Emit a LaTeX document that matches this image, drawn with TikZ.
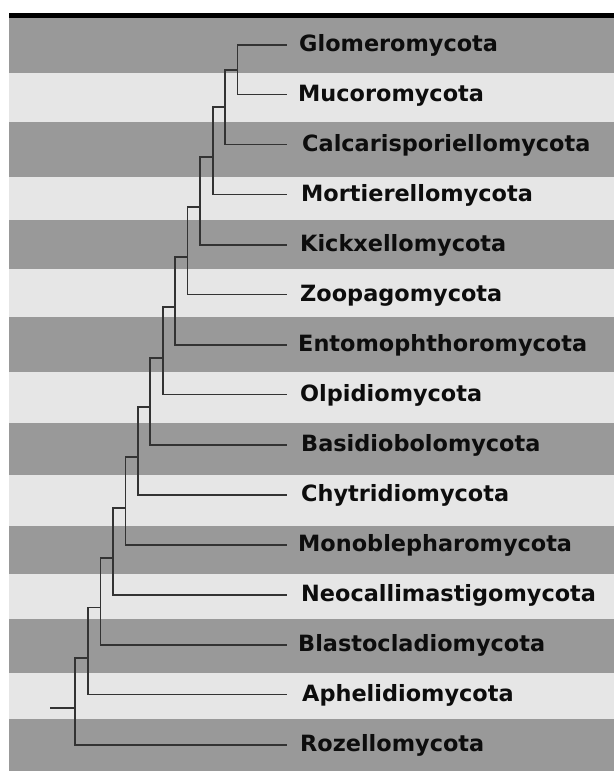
\documentclass[tikz,border=0pt]{standalone}
\usepackage{fontspec}
\newfontfamily\labfont{DejaVu Sans}
\definecolor{banddark}{HTML}{999999}
\definecolor{bandlight}{HTML}{E6E6E6}
\definecolor{branch}{HTML}{333333}
\definecolor{labtext}{HTML}{0D0D0D}
\tikzset{
  branchline/.style={draw=branch, line width=1.6pt},
  taxon/.style={anchor=base west, inner sep=0pt, text=labtext, font=\labfont\bfseries\fontsize{22.4}{26}\selectfont},
}
\begin{document}
\begin{tikzpicture}[x=1pt,y=-1pt]
\useasboundingbox (0,0) rectangle (614,771);
\fill[white] (0,0) rectangle (614,771);
% black top bar
\fill[black] (9,12.7) rectangle (614,18.3);
% bands
\foreach \a/\b/\c in {18.3/73/banddark,73/122/bandlight,122/177/banddark,177/220/bandlight,220/269/banddark,269/317/bandlight,317/372/banddark,372/423/bandlight,423/475/banddark,475/526/bandlight,526/574/banddark,574/619/bandlight,619/673/banddark,673/719/bandlight,719/771/banddark}
  \fill[\c] (9,\a) rectangle (614,\b);
% leaf ends and labels
\foreach \i/\y/\lx/\name in {0/44.7/299/Glomeromycota,1/94.3/298/Mucoromycota,2/144.3/302/Calcarisporiellomycota,3/194.3/301/Mortierellomycota,4/245/300/Kickxellomycota,5/294.3/300/Zoopagomycota,6/344.7/298/Entomophthoromycota,7/394.3/300/Olpidiomycota,8/445/301/Basidiobolomycota,9/495/301/Chytridiomycota,10/545/298/Monoblepharomycota,11/595/301/Neocallimastigomycota,12/645/298/Blastocladiomycota,13/694.3/302/Aphelidiomycota,14/745/300/Rozellomycota}{
  \coordinate (l\i) at (287,\y);
  \node[taxon] (t\i) at (\lx,\y+6.8) {\name};
}
% internal nodes
\foreach \k/\x/\y in {0/237.3/70,1/225/107,2/212.7/156.7,3/200/207,4/187.3/257,5/175/306.7,6/162.7/357.7,7/150/407,8/137.7/457,9/125.3/507.7,10/112.7/557.7,11/100.3/607.3,12/88/657.7,13/75/707.7}
  \coordinate (n\k) at (\x,\y);
\coordinate (root) at (50,707.7);
% branches
\draw[branchline] (n0) |- (l0);
\draw[branchline] (n0) |- (l1);
\foreach \k [evaluate=\k as \p using int(\k-1), evaluate=\k as \q using int(\k+1)] in {1,...,13}{
  \draw[branchline] (n\k) |- (n\p);
  \draw[branchline] (n\k) |- (l\q);
}
\draw[branchline] (root) -- (n13);
\end{tikzpicture}
\end{document}
